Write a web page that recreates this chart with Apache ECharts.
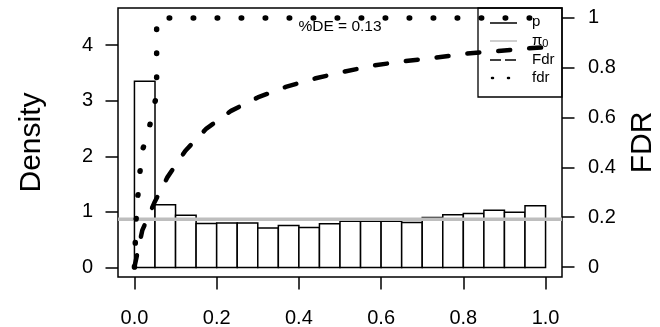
<!DOCTYPE html>
<html>
<head>
<meta charset="utf-8">
<script src="https://cdn.jsdelivr.net/npm/echarts@6/dist/echarts.min.js"></script>
<style>
  html, body { margin: 0; padding: 0; background: #fff; }
  #chart { width: 660px; height: 327px; }
</style>
</head>
<body>
<div id="chart"></div>
<script>
// histogram of p-values (density), 20 bins
var binEdges = [0, 0.05, 0.1, 0.15, 0.2, 0.25, 0.3, 0.35, 0.4, 0.45, 0.5,
                0.55, 0.6, 0.65, 0.7, 0.75, 0.8, 0.85, 0.9, 0.95, 1.0];
var density = [3.35, 1.13, 0.94, 0.79, 0.80, 0.80, 0.71, 0.755, 0.72, 0.785,
               0.83, 0.83, 0.83, 0.81, 0.90, 0.95, 0.97, 1.03, 0.995, 1.11];
var pi0 = 0.87;
var pctDE = 0.13;

// Fdr curve (right axis)
var FdrP = [0, 0.019, 0.048, 0.080, 0.124, 0.175, 0.235, 0.300, 0.368, 0.441,
            0.512, 0.585, 0.659, 0.734, 0.808, 0.883, 0.957, 1.0];
var FdrV = [0, 0.147, 0.257, 0.360, 0.467, 0.556, 0.627, 0.681, 0.723, 0.758,
            0.785, 0.810, 0.827, 0.841, 0.857, 0.867, 0.878, 0.882];

// fdr curve (right axis)
var fdrP = [0, 0.002, 0.004, 0.008, 0.013, 0.017, 0.033, 0.042, 0.054, 0.054, 0.1, 1.0];
var fdrV = [0, 0.097, 0.19, 0.28, 0.37, 0.46, 0.53, 0.61, 0.69, 1.0, 1.0, 1.0];

var xTicks = [0, 0.2, 0.4, 0.6, 0.8, 1.0];
var densTicks = [0, 1, 2, 3, 4];
var fdrTicks = [0, 0.2, 0.4, 0.6, 0.8, 1];

var xMin = -0.04, xMax = 1.04;

var font = 'Liberation Sans, Arial, sans-serif';

function pairs(xs, ys) {
  return xs.map(function (x, i) { return [x, ys[i]]; });
}

var bars = density.map(function (d, i) {
  return [binEdges[i], binEdges[i + 1], d];
});

function renderBar(params, api) {
  var p0 = api.coord([api.value(0), 0]);
  var p1 = api.coord([api.value(1), api.value(2)]);
  return {
    type: 'rect',
    shape: { x: p0[0], y: p1[1], width: p1[0] - p0[0], height: p0[1] - p1[1] },
    style: { fill: '#fff', stroke: '#000', lineWidth: 1.5 }
  };
}

var tick = { show: true, inside: false, length: 12.5, lineStyle: { color: '#000', width: 1.5 } };

var chart = echarts.init(document.getElementById('chart'), null, { renderer: 'canvas' });

var option = {
  animation: false,
  backgroundColor: '#fff',
  grid: {
    left: 118, right: 98, top: 8, bottom: 50,
    outerBoundsMode: 'none', containLabel: false,
    show: true, borderColor: '#000', borderWidth: 1.5, backgroundColor: 'transparent'
  },
  xAxis: {
    type: 'value', min: xMin, max: xMax, position: 'bottom',
    axisLine: { show: false, onZero: false },
    splitLine: { show: false },
    axisTick: Object.assign({ customValues: xTicks }, tick),
    axisLabel: {
      customValues: xTicks, margin: 31, color: '#000', fontFamily: font, fontSize: 20,
      formatter: function (v) { return v.toFixed(1); }
    }
  },
  yAxis: [{
    type: 'value', min: -0.17, max: 4.665, position: 'left',
    name: 'Density', nameLocation: 'middle', nameRotate: 90, nameGap: 71,
    nameTextStyle: { color: '#000', fontFamily: font, fontSize: 30 },
    axisLine: { show: false, onZero: false },
    splitLine: { show: false },
    axisTick: Object.assign({ customValues: densTicks }, tick),
    axisLabel: { customValues: densTicks, margin: 25, color: '#000', fontFamily: font, fontSize: 20 }
  }, {
    type: 'value', min: -0.04, max: 1.04, position: 'right',
    name: 'FDR', nameLocation: 'middle', nameRotate: 90, nameGap: 66,
    nameTextStyle: { color: '#000', fontFamily: font, fontSize: 30 },
    axisLine: { show: false, onZero: false },
    splitLine: { show: false },
    axisTick: Object.assign({ customValues: fdrTicks }, tick),
    axisLabel: {
      customValues: fdrTicks, margin: 26, color: '#000', fontFamily: font, fontSize: 20,
      formatter: function (v) { return String(+v.toFixed(1)); }
    }
  }],
  series: [{
    name: 'hist', type: 'custom', renderItem: renderBar,
    xAxisIndex: 0, yAxisIndex: 0,
    encode: { x: [0, 1], y: 2 },
    data: bars, z: 2
  }, {
    name: 'pi0', type: 'line', xAxisIndex: 0, yAxisIndex: 0,
    data: [[xMin, pi0], [xMax, pi0]],
    showSymbol: false, lineStyle: { color: '#bebebe', width: 3.5 }, z: 3
  }, {
    name: 'Fdr', type: 'line', xAxisIndex: 0, yAxisIndex: 1,
    data: pairs(FdrP, FdrV), showSymbol: false, clip: true,
    lineStyle: { color: '#000', width: 4.5, type: [12, 19], cap: 'round' }, z: 4
  }, {
    name: 'fdr', type: 'line', xAxisIndex: 0, yAxisIndex: 1,
    data: pairs(fdrP, fdrV), showSymbol: false, clip: true,
    lineStyle: { color: '#000', width: 5.5, type: [0.5, 23.5], cap: 'round' }, z: 5
  }],
  graphic: [
    { type: 'text', x: 340, y: 27, z: 10,
      style: { text: '%DE = ' + pctDE, font: '15.5px ' + font, fill: '#000', align: 'center', verticalAlign: 'middle' } },
    // legend box
    { type: 'rect', z: 10, shape: { x: 478, y: 8, width: 84, height: 89 },
      style: { fill: 'none', stroke: '#000', lineWidth: 1.3 } },
    { type: 'line', z: 10, shape: { x1: 490, y1: 23, x2: 517, y2: 23 }, style: { stroke: '#000', lineWidth: 1.5 } },
    { type: 'line', z: 10, shape: { x1: 490, y1: 41, x2: 517, y2: 41 }, style: { stroke: '#bebebe', lineWidth: 1.5 } },
    { type: 'line', z: 10, shape: { x1: 490, y1: 60, x2: 517, y2: 60 }, style: { stroke: '#000', lineWidth: 1.5, lineDash: [11, 4] } },
    { type: 'line', z: 10, shape: { x1: 492, y1: 78, x2: 517, y2: 78 }, style: { stroke: '#000', lineWidth: 2.5, lineDash: [1, 15], lineCap: 'round' } },
    { type: 'text', x: 532, y: 22, z: 10, style: { text: 'p', font: '15px ' + font, fill: '#000', verticalAlign: 'middle' } },
    { type: 'text', x: 532, y: 41, z: 10, style: {
        text: '{a|π}{b|0}', verticalAlign: 'middle',
        rich: { a: { fontFamily: font, fontSize: 15, fill: '#000' },
                b: { fontFamily: font, fontSize: 11, fill: '#000', padding: [6, 0, 0, 0] } } } },
    { type: 'text', x: 532, y: 60, z: 10, style: { text: 'Fdr', font: '15px ' + font, fill: '#000', verticalAlign: 'middle' } },
    { type: 'text', x: 532, y: 78, z: 10, style: { text: 'fdr', font: '15px ' + font, fill: '#000', verticalAlign: 'middle' } }
  ]
};

chart.setOption(option);
</script>
</body>
</html>
